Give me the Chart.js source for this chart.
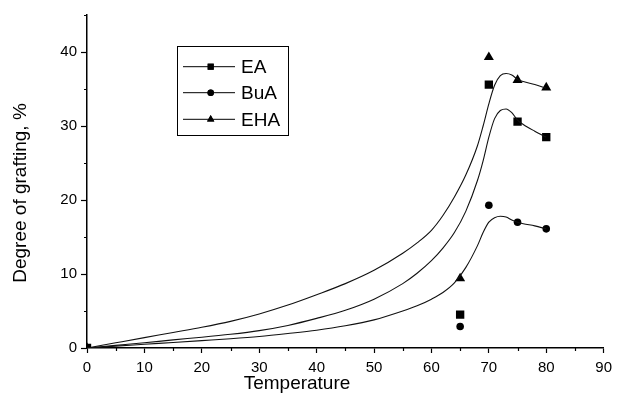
<!DOCTYPE html>
<html>
<head>
<meta charset="utf-8">
<script src="https://cdn.jsdelivr.net/npm/chart.js@4.4.1/dist/chart.umd.min.js"></script>
<style>
  html, body { margin: 0; padding: 0; background: #fff; }
  #wrap { width: 618px; height: 405px; position: relative; }
</style>
</head>
<body>
<div id="wrap"><canvas id="graftChart"></canvas></div>
<script>
// measured points
var temps = [0, 65, 70, 75, 80];
var eaPts = [0, 4.5, 35.6, 30.6, 28.5];
var buaPts = [0, 2.9, 19.3, 17.0, 16.1];
var ehaPts = [0, 9.4, 39.3, 36.2, 35.2];

// fitted curves
var fitTemps = [0, 5, 10, 15, 20, 25, 30, 35, 40, 45, 50, 55, 57.5, 60, 62, 64, 66, 68, 69, 70, 71, 72, 73, 74, 75, 76, 78, 80];
var eaFit  = [0, 0.35, 0.7, 1.1, 1.45, 1.85, 2.35, 3.05, 4.0, 5.1, 6.6, 8.7, 10.1, 11.8, 13.5, 15.6, 18.5, 22.6, 25.3, 28.5, 31.0, 32.1, 32.3, 31.8, 30.8, 30.2, 29.3, 28.5];
var buaFit = [0, 0.25, 0.5, 0.75, 1.0, 1.25, 1.55, 1.95, 2.4, 3.0, 3.8, 5.0, 5.7, 6.6, 7.5, 8.8, 10.9, 13.8, 15.6, 17.0, 17.6, 17.8, 17.7, 17.3, 17.0, 16.8, 16.5, 16.1];
var ehaFit = [0, 0.7, 1.4, 2.1, 2.8, 3.6, 4.6, 5.8, 7.2, 8.7, 10.5, 12.8, 14.2, 15.9, 17.9, 20.4, 23.4, 27.3, 30.0, 33.0, 35.5, 36.8, 37.1, 36.9, 36.3, 36.0, 35.6, 35.1];

var legendNames = ['EA', 'BuA', 'EHA'];
var legendShapes = ['rect', 'circle', 'triangle'];

var xTicks = { min: 0, max: 90, step: 5 };
var yTicks = { min: 0, max: 45, step: 5 };

function toXY(xs, ys) {
    return xs.map(function (x, i) { return { x: x, y: ys[i] }; });
}

function pointSet(label, ys, shape, r) {
    return {
        label: label,
        data: toXY(temps, ys),
        showLine: false,
        pointStyle: shape,
        pointRadius: r,
        pointBackgroundColor: '#000',
        pointBorderColor: '#000',
        pointBorderWidth: 0
    };
}

function fitSet(label, ys) {
    return {
        label: label,
        data: toXY(fitTemps, ys),
        showLine: true,
        borderColor: '#111',
        borderWidth: 1.1,
        pointRadius: 0,
        cubicInterpolationMode: 'monotone',
        fill: false
    };
}

// minor ticks, axis titles and the boxed legend
var extras = {
    id: 'extras',
    afterDraw: function (chart) {
        var ctx = chart.ctx;
        var xs = chart.scales.x, ys = chart.scales.y;
        ctx.save();
        ctx.strokeStyle = '#000';
        ctx.lineWidth = 1.2;
        ctx.beginPath();
        for (var v = 5; v < xTicks.max; v += 10) {
            var px = Math.round(xs.getPixelForValue(v)) + 0.5;
            ctx.moveTo(px, ys.bottom);
            ctx.lineTo(px, ys.bottom + 3);
        }
        for (var w = 5; w <= yTicks.max; w += 10) {
            var py = Math.round(ys.getPixelForValue(w)) + 0.5;
            ctx.moveTo(xs.left, py);
            ctx.lineTo(xs.left - 3, py);
        }
        ctx.stroke();

        // axis titles
        ctx.fillStyle = '#000';
        ctx.font = '19px "Liberation Sans", Arial, sans-serif';
        ctx.textAlign = 'center';
        ctx.textBaseline = 'middle';
        ctx.fillText('Temperature', 297, 384);
        ctx.save();
        ctx.translate(21, 193);
        ctx.rotate(-Math.PI / 2);
        ctx.fillText('Degree of grafting, %', 0, 0);
        ctx.restore();

        // legend
        ctx.lineWidth = 1;
        ctx.strokeRect(177.5, 46.5, 111, 89);
        var rows = [66.7, 92.7, 119.3];
        var radii = [4.3, 3.2, 4.2];
        for (var i = 0; i < rows.length; i++) {
            ctx.beginPath();
            ctx.moveTo(183, rows[i]);
            ctx.lineTo(235, rows[i]);
            ctx.stroke();
            Chart.helpers.drawPoint(ctx, { pointStyle: legendShapes[i], radius: radii[i], borderWidth: 0 }, 210.7, rows[i]);
            ctx.fillStyle = '#000';
            ctx.fill();
            ctx.textAlign = 'left';
            ctx.fillText(legendNames[i], 241, rows[i] + 1);
        }
        ctx.restore();
    }
};

var tickFont = { family: '"Liberation Sans", Arial, sans-serif', size: 15 };

new Chart(document.getElementById('graftChart'), {
    type: 'scatter',
    data: {
        datasets: [
            fitSet('EHA fit', ehaFit),
            fitSet('EA fit', eaFit),
            fitSet('BuA fit', buaFit),
            pointSet('EA', eaPts, 'rect', 5.9),
            pointSet('BuA', buaPts, 'circle', 3.8),
            pointSet('EHA', ehaPts, 'triangle', 5.8)
        ]
    },
    options: {
        responsive: true,
        maintainAspectRatio: false,
        animation: false,
        layout: { padding: { top: 15, right: 9, left: 0, bottom: 0 } },
        plugins: {
            legend: { display: false },
            tooltip: { enabled: false }
        },
        scales: {
            x: {
                type: 'linear',
                min: xTicks.min,
                max: xTicks.max,
                afterFit: function (scale) { scale.height = 57; },
                border: { color: '#000', width: 1.5 },
                grid: { drawOnChartArea: false, tickLength: 5, tickWidth: 1.2, tickColor: '#000' },
                ticks: {
                    stepSize: 10,
                    color: '#000',
                    font: tickFont,
                    padding: 6,
                    maxRotation: 0
                }
            },
            y: {
                type: 'linear',
                min: yTicks.min,
                max: yTicks.max,
                afterFit: function (scale) { scale.width = 87; },
                border: { color: '#000', width: 1.5 },
                grid: {
                    drawOnChartArea: false,
                    tickLength: 6,
                    tickWidth: 1.2,
                    tickColor: function (c) { return c.tick && c.tick.value % 10 === 0 ? '#000' : 'rgba(0,0,0,0)'; }
                },
                ticks: {
                    stepSize: 10,
                    color: '#000',
                    font: tickFont,
                    padding: 4,
                    callback: function (value) { return value % 10 === 0 ? value : ''; }
                }
            }
        }
    },
    plugins: [extras]
});
</script>
</body>
</html>
